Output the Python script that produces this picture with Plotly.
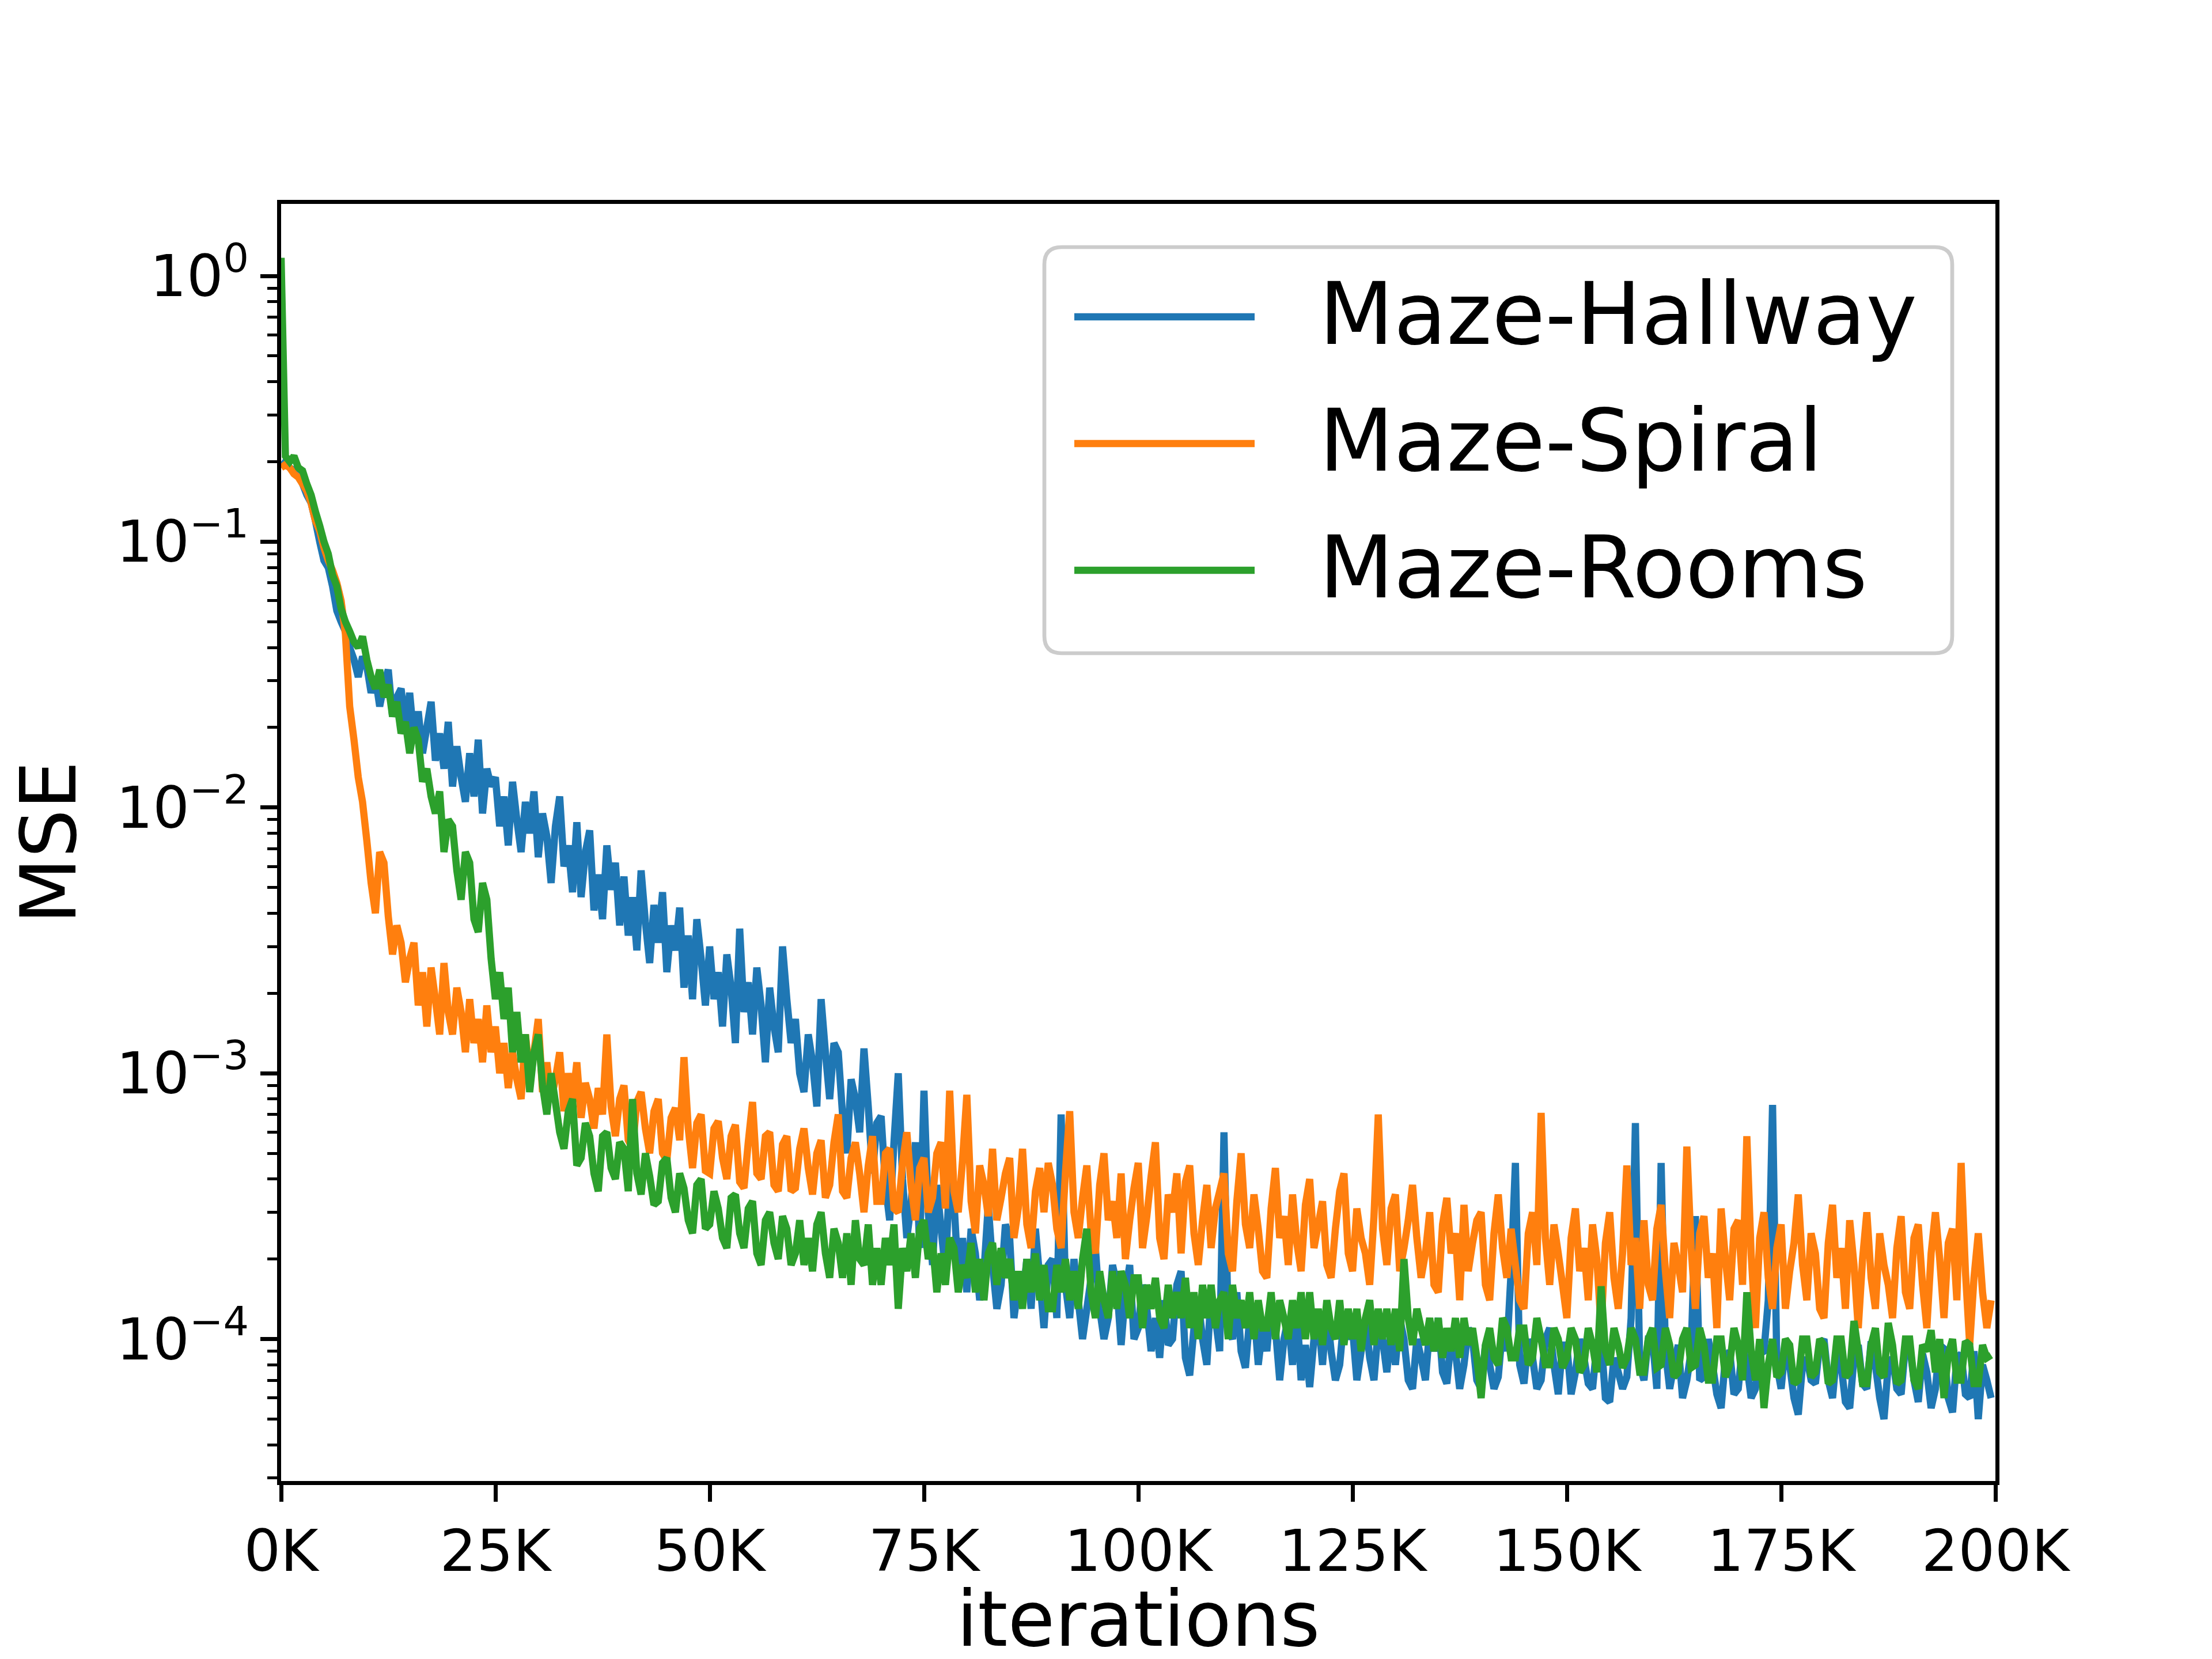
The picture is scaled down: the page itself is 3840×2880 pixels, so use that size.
import plotly.graph_objects as go

# ---------------- data ----------------
iterations = [i * 500 for i in range(400)]

maze_hallway = [
    0.19, 0.2, 0.19, 0.185, 0.18, 0.165, 0.15, 0.14, 0.12, 0.1,
    0.085, 0.08, 0.068, 0.055, 0.05, 0.046, 0.04, 0.036, 0.031, 0.037,
    0.034, 0.027, 0.031, 0.024, 0.029, 0.033, 0.022, 0.026, 0.028, 0.02,
    0.027, 0.018, 0.023, 0.016, 0.02, 0.025, 0.015, 0.019, 0.014, 0.021,
    0.012, 0.017, 0.013, 0.0105, 0.016, 0.011, 0.018, 0.0095, 0.014, 0.012,
    0.013, 0.0085, 0.011, 0.0072, 0.0125, 0.009, 0.0068, 0.0105, 0.008, 0.0115,
    0.0065, 0.0095, 0.0078, 0.0052, 0.0085, 0.011, 0.006, 0.0072, 0.0048, 0.0088,
    0.0046, 0.0068, 0.0082, 0.0041, 0.0056, 0.0038, 0.0072, 0.0049, 0.0062, 0.0036,
    0.0055, 0.0033, 0.0046, 0.0029, 0.0058, 0.0037, 0.0026, 0.0043, 0.0031, 0.0048,
    0.0024, 0.0036, 0.0029, 0.0042, 0.0021, 0.0033, 0.0019, 0.0038, 0.0027, 0.0018,
    0.003, 0.0019, 0.0024, 0.0015, 0.0028, 0.0021, 0.0013, 0.0035, 0.0017, 0.0022,
    0.0014, 0.0025, 0.0018, 0.0011, 0.0021, 0.0015, 0.0012, 0.003, 0.0019, 0.0013,
    0.0016, 0.001, 0.00085, 0.0014, 0.0011, 0.00075, 0.0019, 0.0012, 0.0008, 0.0013,
    0.0012, 0.0007, 0.0005, 0.00095, 0.0008, 0.0006, 0.00124, 0.00075, 0.00042, 0.00065,
    0.00069, 0.00038, 0.00028, 0.00055, 0.001, 0.0004, 0.00024, 0.00032, 0.00055, 0.00022,
    0.00086, 0.0003, 0.00019, 0.00038, 0.00026, 0.00018, 0.00042, 0.00033, 0.00017, 0.00024,
    0.00015, 0.00026, 0.00021, 0.00014, 0.00018, 0.00032, 0.00019, 0.00013, 0.00016, 0.00027,
    0.00024, 0.00012, 0.00016, 0.00014, 0.0002, 0.00013, 0.00026, 0.00017, 0.00011, 0.00019,
    0.0002, 0.00012, 0.0007, 0.00016, 0.00012, 0.0002, 0.00014, 0.0001, 0.00013, 0.00017,
    0.00022, 0.00013, 0.0001, 0.00012, 0.00019, 0.00016, 9.5e-5, 0.00015, 0.00019, 0.0001,
    0.00011, 0.00016, 0.00013, 9e-5, 0.00012, 8.5e-5, 0.00014, 9.5e-5, 0.0001, 0.00016,
    0.00018, 8.5e-5, 7.3e-5, 0.00011, 0.00014, 0.0001, 8e-5, 0.00015, 0.00012, 9e-5,
    0.0006, 0.00011, 0.0001, 0.00015, 9e-5, 7.8e-5, 0.00012, 0.00013, 8e-5, 0.00011,
    9e-5, 0.00014, 0.00011, 7e-5, 0.0001, 0.00012, 8e-5, 0.00013, 7e-5, 9.5e-5,
    6.6e-5, 0.0001, 0.00012, 8e-5, 0.00013, 9e-5, 7e-5, 8e-5, 0.00012, 0.0001,
    0.00011, 7e-5, 9e-5, 0.00012, 8.5e-5, 7e-5, 0.00011, 0.0001, 7.5e-5, 0.00011,
    8e-5, 0.00012, 0.0001, 7e-5, 6.5e-5, 0.0001, 8.5e-5, 7e-5, 0.00011, 9e-5,
    0.00012, 7.5e-5, 6.8e-5, 0.0001, 9e-5, 6.5e-5, 8e-5, 0.00011, 0.0001, 7e-5,
    6.5e-5, 9.5e-5, 8e-5, 6.5e-5, 7.2e-5, 0.00011, 9e-5, 0.00018, 0.00046, 8e-5,
    6.8e-5, 0.0001, 8.5e-5, 6.5e-5, 7e-5, 0.0001, 0.00011, 8e-5, 6.2e-5, 9.5e-5,
    9.5e-5, 6.2e-5, 7.5e-5, 0.0001, 8.5e-5, 6.8e-5, 6.5e-5, 9.5e-5, 0.0001, 6e-5,
    5.8e-5, 8.5e-5, 7.5e-5, 6.5e-5, 7.2e-5, 0.00012, 0.00065, 8e-5, 7e-5, 0.0001,
    0.0001, 6.5e-5, 0.00046, 9e-5, 6.5e-5, 8e-5, 9.5e-5, 6e-5, 7e-5, 9e-5,
    0.00029, 7e-5, 7.2e-5, 0.0001, 8e-5, 6.2e-5, 5.5e-5, 8.5e-5, 9e-5, 6.2e-5,
    6.5e-5, 9.5e-5, 8e-5, 6e-5, 6.5e-5, 8.8e-5, 9e-5, 0.00014, 0.00076, 8e-5,
    6.5e-5, 9.5e-5, 8e-5, 6e-5, 5.2e-5, 8e-5, 8.5e-5, 7e-5, 6.8e-5, 9.5e-5,
    0.0001, 7e-5, 6e-5, 9e-5, 8e-5, 5.8e-5, 5.5e-5, 8.5e-5, 9.5e-5, 6.8e-5,
    6.5e-5, 9.8e-5, 8e-5, 6e-5, 5e-5, 8e-5, 8.5e-5, 6.5e-5, 6.2e-5, 9.5e-5,
    9.5e-5, 7e-5, 5.8e-5, 8.8e-5, 7.5e-5, 5.5e-5, 6.5e-5, 9.5e-5, 9.2e-5, 6e-5,
    5.3e-5, 8.5e-5, 8.8e-5, 6.2e-5, 6e-5, 9e-5, 5e-5, 8e-5, 7e-5, 6e-5,
]

maze_spiral = [
    0.19, 0.195, 0.19, 0.18, 0.175, 0.165, 0.155, 0.14, 0.12, 0.11,
    0.095, 0.085, 0.078, 0.07, 0.06, 0.045, 0.024, 0.018, 0.013, 0.0105,
    0.0075, 0.0052, 0.004, 0.0068, 0.0062, 0.0039, 0.0028, 0.0036, 0.0031, 0.0022,
    0.0027, 0.0031, 0.0018, 0.0024, 0.0015, 0.0025, 0.0019, 0.0014, 0.0026, 0.0017,
    0.0014, 0.0021, 0.0017, 0.0012, 0.0019, 0.0013, 0.0016, 0.0011, 0.0018, 0.0012,
    0.0015, 0.001, 0.0013, 0.00088, 0.0012, 0.00095, 0.0008, 0.0014, 0.001, 0.0012,
    0.0016, 0.00085, 0.0011, 0.0008, 0.00095, 0.0012, 0.00072, 0.001, 0.00078, 0.0011,
    0.00068, 0.00092, 0.0008, 0.00062, 0.00088, 0.0007, 0.0014, 0.00075, 0.00058, 0.0008,
    0.0009, 0.00056, 0.00052, 0.00078, 0.00085, 0.00062, 0.0005, 0.00072, 0.0008, 0.0005,
    0.00047, 0.00068, 0.00074, 0.00056, 0.00115, 0.00062, 0.00044, 0.00065, 0.0007, 0.00043,
    0.00042, 0.00062, 0.00066, 0.00048, 0.0004, 0.00058, 0.00064, 0.00039, 0.00037, 0.00055,
    0.00078, 0.00042, 0.0004, 0.00058, 0.0006, 0.00038, 0.00036, 0.00054, 0.00058, 0.00036,
    0.00037, 0.00052, 0.00062, 0.00044, 0.00035, 0.0005, 0.00056, 0.00034, 0.00038, 0.00055,
    0.0007, 0.00036, 0.00034, 0.00048, 0.00055, 0.00042, 0.0003, 0.00045, 0.00058, 0.00033,
    0.00033, 0.0005, 0.00052, 0.00031, 0.0003, 0.00046, 0.0006, 0.00038, 0.00028, 0.00044,
    0.00048, 0.0003, 0.00034, 0.0005, 0.00055, 0.00031, 0.00086, 0.00036, 0.0003, 0.00047,
    0.00083, 0.00033, 0.00025, 0.00045, 0.00038, 0.00029, 0.00052, 0.00028, 0.00034, 0.00042,
    0.00048, 0.00024, 0.00031, 0.00052, 0.00027, 0.00022, 0.00036, 0.00044, 0.0003, 0.00046,
    0.00038, 0.00026, 0.00022, 0.00042, 0.00072, 0.0003, 0.00024, 0.00034, 0.00045, 0.00025,
    0.00021, 0.00038, 0.0005, 0.00028, 0.00033, 0.00024, 0.00042, 0.0002, 0.00028, 0.00037,
    0.00046, 0.00022, 0.00029, 0.00041, 0.00055, 0.00024, 0.0002, 0.00035, 0.0003, 0.00042,
    0.00021, 0.00039, 0.00045, 0.00025, 0.00019, 0.00028, 0.00038, 0.00022, 0.00031, 0.00036,
    0.00042, 0.00021, 0.00018, 0.00033, 0.0005, 0.00027, 0.00022, 0.00035, 0.00026, 0.00018,
    0.00017, 0.00031, 0.00044, 0.00024, 0.00029, 0.00019, 0.00035, 0.00023, 0.00018, 0.00032,
    0.0004, 0.00022, 0.00027, 0.00033, 0.00019, 0.00017, 0.00026, 0.00036, 0.00042, 0.00021,
    0.00018, 0.00031, 0.00024, 0.00021, 0.00016, 0.00029, 0.0007, 0.00026, 0.00019, 0.00031,
    0.00035, 0.00018, 0.00022, 0.00028, 0.00038, 0.00024, 0.00017, 0.00021, 0.0003, 0.00016,
    0.00015, 0.00027, 0.00034, 0.00021, 0.00025, 0.00014, 0.00032, 0.00018, 0.00023, 0.00028,
    0.0003, 0.00016, 0.00014, 0.00025, 0.00035, 0.00022, 0.00017, 0.00026, 0.00019, 0.00014,
    0.00013, 0.00025, 0.0003, 0.00019, 0.00071, 0.00024, 0.00016, 0.00027, 0.00021, 0.00016,
    0.00012, 0.00024, 0.00031, 0.00018, 0.00022, 0.00014, 0.00027, 0.0002, 0.00011, 0.00023,
    0.0003, 0.00017, 0.00013, 0.00021, 0.00045, 0.00019, 0.00024, 0.00013, 0.00028, 0.00016,
    0.00014, 0.00026, 0.00032, 0.00018, 0.00012, 0.00023, 0.00019, 0.00015, 0.00053, 0.00022,
    0.00013, 0.00025, 0.00029, 0.00017, 0.00021, 0.00011, 0.00031, 0.0002, 0.00014, 0.00026,
    0.00028, 0.00016, 0.00058, 0.00021, 0.00011, 0.00024, 0.0003, 0.00017, 0.00013, 0.00022,
    0.00027, 0.00013, 0.00018, 0.00023, 0.00035, 0.00019, 0.00014, 0.00025, 0.00021, 0.00013,
    0.00012, 0.00023, 0.00032, 0.00017, 0.00022, 0.00013, 0.00028, 0.00019, 0.00011, 0.0002,
    0.0003, 0.00017, 0.00013, 0.00025, 0.00019, 0.00016, 0.00012, 0.00022, 0.00029, 0.00015,
    0.00013, 0.00024, 0.00027, 0.00016, 0.00011, 0.00021, 0.0003, 0.0002, 0.00012, 0.00023,
    0.00026, 0.00014, 0.00046, 0.00018, 9.5e-5, 0.00017, 0.00025, 0.00015, 0.00011, 0.00014,
]

maze_rooms = [
    1.17, 0.21, 0.2, 0.21, 0.19, 0.185, 0.165, 0.15, 0.13, 0.115,
    0.1, 0.09, 0.075, 0.068, 0.056, 0.05, 0.046, 0.042, 0.04, 0.044,
    0.036, 0.031, 0.028, 0.033, 0.026, 0.029, 0.022, 0.025, 0.019, 0.021,
    0.016, 0.02, 0.018, 0.0125, 0.014, 0.011, 0.0095, 0.0115, 0.0068, 0.009,
    0.0085, 0.0058, 0.0045, 0.0068, 0.0062, 0.0038, 0.0034, 0.0052, 0.0045, 0.0027,
    0.0019, 0.0024, 0.0016, 0.0021, 0.0012, 0.0017, 0.0011, 0.0014, 0.00085, 0.0012,
    0.0014, 0.0009, 0.0007, 0.001, 0.00078, 0.0006, 0.00052, 0.00072, 0.0008, 0.00045,
    0.00048, 0.00065, 0.00058, 0.00042, 0.00036, 0.00058, 0.0006, 0.00044, 0.0004, 0.00055,
    0.00052, 0.00036, 0.0008, 0.00042, 0.00035, 0.0005, 0.00041, 0.00032, 0.00033, 0.00046,
    0.00048, 0.00034, 0.0003, 0.00042, 0.00037, 0.00028, 0.00025, 0.00038, 0.0004, 0.00026,
    0.00027, 0.00036, 0.00031, 0.00024, 0.00022, 0.00034, 0.00035, 0.00025, 0.00022, 0.00031,
    0.00033, 0.00021, 0.00019, 0.00028, 0.0003, 0.00023, 0.0002, 0.00029, 0.00026, 0.00019,
    0.00021, 0.00028, 0.00019, 0.00024, 0.00018, 0.00027, 0.0003, 0.00021, 0.00017, 0.00026,
    0.00023, 0.00017, 0.00025, 0.00016, 0.00028, 0.0002, 0.00019, 0.00027, 0.00016, 0.00022,
    0.00016, 0.00024, 0.00019, 0.00027, 0.00013, 0.00022, 0.00018, 0.00025, 0.00017, 0.00026,
    0.00028, 0.0002, 0.00023, 0.00015, 0.00021, 0.00016, 0.00024, 0.00022, 0.00015, 0.00019,
    0.00017, 0.00023, 0.00015, 0.0002, 0.00014, 0.00021, 0.00023, 0.00016, 0.00022, 0.00017,
    0.0002, 0.00014, 0.00018, 0.00013, 0.0002, 0.00015, 0.00021, 0.00014, 0.00019, 0.00013,
    0.00013, 0.00019, 0.00015, 0.0002, 0.00014, 0.00018, 0.00013, 0.0002, 0.00026, 0.00015,
    0.00012, 0.00018, 0.00014, 0.00012, 0.00018, 0.00013, 0.00018, 0.00016, 0.00012, 0.00017,
    0.00017, 0.00011, 0.00016, 0.00013, 0.00017, 0.00012, 0.00011, 0.00016, 0.00012, 0.00015,
    0.00012, 0.00017, 0.00011, 0.00015, 0.0001, 0.00016, 0.00012, 0.00016, 0.00011, 0.00014,
    0.00015, 0.0001, 0.00016, 0.00012, 0.00014, 0.00011, 0.00015, 0.0001, 0.00014, 0.00011,
    0.00011, 0.00015, 0.0001, 0.00014, 0.00012, 0.0001, 0.00014, 0.00011, 0.00015, 0.0001,
    0.00015, 0.0001, 0.00013, 9.5e-5, 0.00014, 0.00011, 0.0001, 0.00014, 9.5e-5, 0.00013,
    0.0001, 0.00013, 9e-5, 0.00012, 0.00014, 9.5e-5, 0.00013, 0.0001, 0.00013, 9.5e-5,
    0.00013, 9e-5, 0.0002, 0.00012, 9.5e-5, 0.00013, 0.00011, 9.5e-5, 0.00012, 9e-5,
    0.00012, 8.5e-5, 0.00011, 9e-5, 0.00012, 8.5e-5, 0.00012, 9.5e-5, 0.00011, 8.5e-5,
    6e-5, 9.5e-5, 0.00011, 8.5e-5, 8e-5, 0.00012, 0.00011, 8.5e-5, 8.5e-5, 0.00011,
    0.00011, 8e-5, 8.5e-5, 0.00012, 0.0001, 8e-5, 8e-5, 0.00011, 0.0001, 7.8e-5,
    8.5e-5, 0.00011, 0.0001, 7.5e-5, 8e-5, 0.00011, 9.5e-5, 7.5e-5, 0.000158, 9e-5,
    8e-5, 0.00011, 9.5e-5, 7.8e-5, 8.5e-5, 0.00011, 0.0001, 7.5e-5, 7.5e-5, 0.0001,
    0.00011, 7.8e-5, 8e-5, 0.00011, 9.5e-5, 7.2e-5, 7.5e-5, 0.0001, 0.00011, 7.8e-5,
    8e-5, 0.00011, 9.5e-5, 7e-5, 7e-5, 0.0001, 0.0001, 7.2e-5, 8e-5, 0.00011,
    9.5e-5, 7e-5, 0.00015, 9e-5, 7e-5, 0.0001, 5.5e-5, 8e-5, 0.0001, 7.2e-5,
    7.5e-5, 0.0001, 9.5e-5, 6.8e-5, 7e-5, 0.0001, 0.0001, 7.2e-5, 7.5e-5, 0.0001,
    9.5e-5, 6.8e-5, 7e-5, 0.0001, 0.0001, 7.2e-5, 7.5e-5, 0.000117, 9e-5, 6.8e-5,
    6.8e-5, 9.5e-5, 0.00011, 7.5e-5, 7.2e-5, 0.000115, 9.5e-5, 6.8e-5, 7e-5, 0.0001,
    0.0001, 7e-5, 6.5e-5, 9.5e-5, 9e-5, 0.000108, 7.5e-5, 0.0001, 6e-5, 8.8e-5,
    0.0001, 7e-5, 7e-5, 9.8e-5, 9.5e-5, 6.8e-5, 6.8e-5, 9.5e-5, 8.5e-5, 8.7e-5,
]

series_names = ["Maze-Hallway", "Maze-Spiral", "Maze-Rooms"]
series_values = [maze_hallway, maze_spiral, maze_rooms]
series_colors = ["#1f77b4", "#ff7f0e", "#2ca02c"]

x_tick_vals = [0, 25000, 50000, 75000, 100000, 125000, 150000, 175000, 200000]
x_tick_text = ["0K", "25K", "50K", "75K", "100K", "125K", "150K", "175K", "200K"]
y_tick_vals = [1e-4, 1e-3, 1e-2, 1e-1, 1e0]
y_tick_text = ["10<sup>\u22124</sup>", "10<sup>\u22123</sup>", "10<sup>\u22122</sup>",
               "10<sup>\u22121</sup>", "10<sup>0</sup>"]
y_minor_vals = [m * 10.0 ** e for e in range(-5, 1) for m in range(2, 10)]

# ---------------- layout geometry (pixels) ----------------
W, H = 3840, 2880
PL, PR, PT, PB = 480, 3456, 346, 2563
FONT = "DejaVu Sans"


def px_x(px):
    return (px - PL) / (PR - PL)


def px_y(py):
    return (PB - py) / (PB - PT)


fig = go.Figure()
for name, vals, col in zip(series_names, series_values, series_colors):
    fig.add_trace(go.Scatter(
        x=iterations, y=vals, mode="lines", name=name,
        line=dict(color=col, width=12.5, simplify=False), showlegend=False,
    ))

axis_common = dict(
    showline=True, linecolor="black", linewidth=6.7, mirror=True,
    showgrid=False, zeroline=False, ticks="outside", ticklen=29,
    tickwidth=6.7, tickcolor="black",
    tickfont=dict(family=FONT, size=100, color="black"),
)

fig.update_xaxes(
    range=[0, 200000], tickmode="array", tickvals=x_tick_vals,
    ticktext=x_tick_text,
    title=dict(text="iterations", font=dict(family=FONT, size=133, color="black"),
               standoff=30),
    **axis_common,
)
fig.update_yaxes(
    type="log", range=[-4.534, 0.271], tickmode="array",
    tickvals=y_tick_vals, ticktext=y_tick_text,
    minor=dict(tickmode="array", tickvals=y_minor_vals, ticks="outside",
               ticklen=16.7, tickwidth=5, tickcolor="black", showgrid=False),
    title=dict(text="MSE", font=dict(family=FONT, size=133, color="black"),
               standoff=45),
    **axis_common,
)

# ---------------- legend (drawn as shapes + text) ----------------
lg_l, lg_r, lg_t, lg_b, rad = 1805, 3381, 421, 1126, 30
path = (
    f"M {px_x(lg_l + rad)},{px_y(lg_t)} L {px_x(lg_r - rad)},{px_y(lg_t)} "
    f"Q {px_x(lg_r)},{px_y(lg_t)} {px_x(lg_r)},{px_y(lg_t + rad)} "
    f"L {px_x(lg_r)},{px_y(lg_b - rad)} "
    f"Q {px_x(lg_r)},{px_y(lg_b)} {px_x(lg_r - rad)},{px_y(lg_b)} "
    f"L {px_x(lg_l + rad)},{px_y(lg_b)} "
    f"Q {px_x(lg_l)},{px_y(lg_b)} {px_x(lg_l)},{px_y(lg_b - rad)} "
    f"L {px_x(lg_l)},{px_y(lg_t + rad)} "
    f"Q {px_x(lg_l)},{px_y(lg_t)} {px_x(lg_l + rad)},{px_y(lg_t)} Z"
)
fig.add_shape(type="path", path=path, xref="paper", yref="paper",
              line=dict(color="#cccccc", width=6.7),
              fillcolor="rgba(255,255,255,0.8)", layer="above")

row_y = [542, 762, 982]
for name, col, ry in zip(series_names, series_colors, row_y):
    fig.add_shape(type="line", xref="paper", yref="paper",
                  x0=px_x(1857), x1=px_x(2170), y0=px_y(ry), y1=px_y(ry),
                  line=dict(color=col, width=12.5), layer="above")
    fig.add_annotation(text=name, xref="paper", yref="paper",
                       x=px_x(2280), y=px_y(ry - 5), xanchor="left", yanchor="middle",
                       showarrow=False,
                       font=dict(family=FONT, size=150, color="black"))

fig.update_layout(
    width=W, height=H, autosize=False,
    margin=dict(l=PL, r=W - PR, t=PT, b=H - PB, pad=0),
    plot_bgcolor="white", paper_bgcolor="white",
    font=dict(family=FONT, color="black"),
    showlegend=False,
)

fig.write_html("out.html")
